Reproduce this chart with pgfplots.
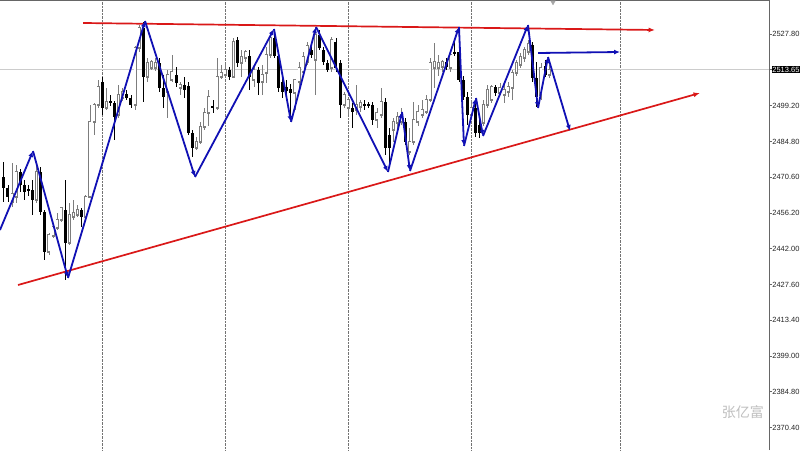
\documentclass[border=0pt]{standalone}
\usepackage{fontspec}
\setmainfont{Liberation Sans}
\newfontfamily\cjk{Noto Sans CJK SC}
\usepackage{pgfplots}
\pgfplotsset{compat=1.18}
\usepackage{pgfplotstable}
\usetikzlibrary{arrows.meta}
\definecolor{mtblue}{RGB}{16,16,180}
\definecolor{mtred}{RGB}{218,24,24}
\definecolor{bullgray}{RGB}{125,125,125}
\pgfplotstableread{
i o h l c
0 2470.7 2476.7 2460.7 2466.3
1 2466.3 2467.5 2460.7 2462.7
2 2460.7 2476.3 2458.7 2463.9
3 2462.7 2475.5 2460.3 2472.7
4 2472.7 2473.9 2464.7 2467.5
5 2467.5 2469.5 2461.5 2464.7
6 2465.9 2467.5 2463.1 2465.1
7 2465.5 2469.5 2455.5 2461.5
8 2461.5 2476.3 2460.3 2472.7
9 2472.7 2474.7 2455.5 2456.7
10 2456.7 2457.5 2437.5 2440.7
11 2440.7 2448.3 2439.5 2447.5
12 2447.1 2452.3 2446.3 2450.7
13 2450.3 2456.3 2449.5 2453.5
14 2453.5 2458.7 2452.7 2458.3
15 2457.5 2469.5 2429.5 2444.3
16 2444.3 2460.3 2443.5 2455.5
17 2454.7 2461.5 2453.5 2456.3
18 2455.5 2459.5 2454.7 2457.5
19 2457.5 2458.3 2450.7 2454.7
20 2454.7 2463.5 2453.9 2462.7
21 2462.7 2499.5 2462.3 2492.7
22 2492.7 2500.3 2487.5 2499.5
23 2499.5 2509.5 2498.3 2506.7
24 2508.7 2510.7 2495.5 2498.3
25 2498.3 2506.3 2497.5 2500.7
26 2501.1 2503.5 2499.1 2500.3
27 2500.3 2501.1 2485.5 2494.7
28 2495.5 2507.5 2494.3 2503.5
29 2502.3 2506.3 2501.1 2504.7
30 2503.9 2505.5 2501.5 2502.3
31 2502.3 2503.5 2498.3 2499.5
32 2499.5 2523.1 2497.5 2522.3
33 2522.3 2531.5 2520.7 2530.3
34 2530.3 2532.7 2500.7 2510.7
35 2510.7 2518.3 2508.7 2516.3
36 2514.3 2517.5 2513.5 2516.7
37 2514.3 2518.3 2513.1 2516.3
38 2516.3 2518.3 2504.7 2506.3
39 2506.3 2511.5 2498.3 2502.7
40 2504.7 2513.5 2494.3 2511.5
41 2509.5 2519.5 2508.7 2512.7
42 2511.5 2514.7 2506.7 2508.3
43 2506.3 2508.7 2503.5 2507.5
44 2507.5 2510.7 2502.3 2505.5
45 2507.1 2508.7 2487.5 2488.3
46 2488.3 2489.5 2478.7 2482.3
47 2482.3 2486.7 2481.5 2484.7
48 2484.7 2492.7 2483.9 2490.7
49 2490.7 2498.3 2489.5 2496.3
50 2496.3 2505.5 2491.1 2502.7
51 2499.1 2501.5 2496.3 2498.3
52 2498.3 2518.3 2497.5 2510.7
53 2510.7 2515.5 2509.9 2512.3
54 2511.5 2516.3 2510.7 2513.5
55 2513.5 2514.7 2509.5 2510.7
56 2510.7 2526.3 2510.3 2524.7
57 2525.5 2526.7 2514.7 2516.3
58 2516.3 2521.5 2510.7 2518.7
59 2518.3 2521.5 2516.7 2520.7
60 2519.1 2521.5 2505.5 2510.7
61 2509.5 2514.7 2506.7 2513.5
62 2513.5 2514.7 2503.5 2508.3
63 2508.7 2515.5 2503.5 2511.5
64 2512.3 2522.7 2508.3 2519.5
65 2519.5 2528.3 2518.3 2526.3
66 2526.3 2529.5 2518.3 2519.1
67 2519.1 2521.5 2504.7 2506.3
68 2508.7 2511.1 2502.3 2504.7
69 2506.7 2509.5 2503.1 2505.1
70 2505.9 2507.9 2493.5 2504.3
71 2504.3 2508.7 2497.5 2509.5
72 2508.7 2516.7 2506.3 2514.3
73 2512.7 2520.7 2511.1 2518.7
74 2516.7 2524.7 2515.5 2523.1
75 2521.5 2523.9 2518.3 2519.5
76 2517.5 2530.7 2503.5 2527.5
77 2527.5 2529.5 2521.5 2522.3
78 2521.5 2522.7 2515.5 2516.7
79 2516.3 2517.5 2512.7 2513.5
80 2514.3 2526.7 2512.7 2525.5
81 2524.7 2526.3 2512.7 2514.3
82 2516.3 2517.5 2494.3 2499.5
83 2499.5 2504.7 2498.3 2503.5
84 2498.3 2502.3 2495.5 2501.5
85 2498.3 2500.3 2490.3 2496.7
86 2497.5 2507.5 2495.5 2499.5
87 2498.7 2501.5 2496.7 2500.3
88 2499.9 2501.5 2497.5 2499.1
89 2499.9 2500.7 2498.3 2499.1
90 2499.5 2500.7 2491.5 2493.5
91 2493.5 2498.3 2490.3 2496.3
92 2495.5 2506.3 2494.3 2500.7
93 2500.7 2502.3 2479.5 2482.3
94 2487.5 2490.3 2474.7 2482.3
95 2489.5 2494.3 2484.7 2492.7
96 2492.3 2496.7 2489.5 2494.7
97 2492.7 2498.3 2491.5 2495.5
98 2492.7 2494.3 2483.5 2484.7
99 2480.7 2490.3 2479.5 2484.7
100 2484.7 2500.7 2483.5 2493.5
101 2492.7 2499.5 2491.1 2496.7
102 2495.5 2501.5 2494.3 2497.5
103 2496.7 2503.5 2495.9 2501.5
104 2501.5 2518.3 2500.7 2516.3
105 2514.3 2524.3 2506.3 2516.7
106 2514.3 2519.5 2511.1 2516.3
107 2514.7 2517.5 2512.7 2516.7
108 2516.7 2518.3 2513.5 2514.7
109 2514.3 2521.5 2512.7 2519.5
110 2520.7 2525.5 2519.1 2519.9
111 2520.7 2525.5 2508.7 2509.5
112 2509.5 2511.1 2501.5 2502.7
113 2502.7 2504.7 2491.5 2495.5
114 2495.5 2501.5 2493.5 2498.3
115 2498.3 2501.5 2486.7 2488.3
116 2491.5 2494.3 2486.3 2488.3
117 2492.3 2501.5 2491.1 2499.5
118 2499.5 2507.5 2498.3 2505.5
119 2501.5 2507.5 2500.3 2506.7
120 2506.7 2507.5 2503.1 2504.3
121 2504.3 2508.3 2503.5 2506.3
122 2503.5 2507.5 2500.3 2505.5
123 2504.7 2508.7 2502.7 2506.7
124 2506.3 2513.5 2501.5 2512.3
125 2512.3 2517.5 2511.1 2516.3
126 2515.5 2520.3 2514.3 2518.7
127 2518.3 2522.7 2516.7 2521.5
128 2520.7 2525.5 2519.5 2523.9
129 2523.5 2524.7 2508.7 2510.3
130 2510.3 2516.7 2498.7 2502.7
131 2503.5 2516.3 2501.5 2514.3
132 2515.1 2517.5 2510.7 2511.5
133 2511.5 2515.5 2510.3 2513.65
}\candles

\begin{document}
\begin{tikzpicture}
\fill[white] (0,0) rectangle (800pt,450pt);
\begin{axis}[
  at={(0pt,0pt)}, anchor=south west,
  width=769pt, height=450pt, scale only axis,
  xmin=-0.927, xmax=186.63, ymin=2361.5, ymax=2541.5,
  clip=false,
  axis x line*=top, axis y line*=right,
  axis line style={draw=black!60, line width=0.8pt},
  xtick={23.95,53.95,83.95,113.95,150.3}, xticklabels={},
  x tick style={draw=none},
  xmajorgrids,
  grid style={densely dotted, black!55, line width=0.6pt},
  ytick={2370.4,2384.8,2399.0,2413.4,2427.6,2442.0,2456.2,2470.6,2484.8,2499.2,2527.8},
  yticklabels={2370.40,2384.80,2399.00,2413.40,2427.60,2442.00,2456.20,2470.60,2484.80,2499.20,2527.80},
  extra y ticks={2513.65}, extra y tick labels={2513.65},
  extra y tick style={yticklabel style={fill=black, text=white}},
  tick align=outside, major tick length=2.5pt,
  y tick style={black!60, line width=0.6pt},
  yticklabel style={font=\fontsize{7.5}{9}\selectfont, text=black!85, inner sep=0.7pt, anchor=west},
  candle/.style={forget plot, mark=none, -},
]
% current price line
\addplot[black!20, line width=0.9pt, forget plot] coordinates {(-0.927,2513.65) (186.63,2513.65)};
% chart shift marker
\addplot[only marks, mark=triangle*, mark size=2.6pt, mark options={rotate=180, fill=black!35, draw=black!35}, forget plot] coordinates {(133.95,2540.6)};
% wicks (bullish grey, bearish black)
\addplot[candle, bullgray, line width=0.7pt,
  restrict expr to domain={\thisrow{c}-\thisrow{o}}{0:10000},
  quiver={u=0, v=\thisrow{h}-\thisrow{l}}]
  table[x=i, y=l] {\candles};
\addplot[candle, black, line width=0.7pt,
  restrict expr to domain={\thisrow{o}-\thisrow{c}}{0.001:10000},
  quiver={u=0, v=\thisrow{h}-\thisrow{l}}]
  table[x=i, y=l] {\candles};
% bodies: bearish
\addplot[candle, black, line width=3pt,
  restrict expr to domain={\thisrow{o}-\thisrow{c}}{0.001:10000},
  quiver={u=0, v={max(\thisrow{o}-\thisrow{c},0.5)}}]
  table[x=i, y=c] {\candles};
% bodies: bullish (grey outline, white fill)
\addplot[candle, bullgray, line width=3pt,
  restrict expr to domain={\thisrow{c}-\thisrow{o}}{0:10000},
  quiver={u=0, v={\thisrow{c}-\thisrow{o}+0.5}}]
  table[x=i, y expr=\thisrow{o}-0.25] {\candles};
\addplot[candle, white, line width=1.6pt,
  restrict expr to domain={\thisrow{c}-\thisrow{o}}{0:10000},
  quiver={u=0, v={max(\thisrow{c}-\thisrow{o}-0.4,0.01)}}]
  table[x=i, y expr=\thisrow{o}+0.2] {\candles};
% red trend lines
\addplot[mtred, line width=1.7pt, -{Latex[length=6.5pt,width=5pt]}] coordinates {(19.32,2532.3) (158.83,2529.5)};
\addplot[mtred, line width=1.7pt, -{Latex[length=6.5pt,width=5pt]}] coordinates {(3.46,2427.5) (169.8,2504.3)};
% blue zigzag
\pgfplotsset{zz/.style={mtblue, line width=1.8pt, -{Latex[length=6pt,width=5pt]}}}
\addplot[zz] coordinates {(-0.93,2449.5) (7.12,2481.1)};
\addplot[zz] coordinates {(7.12,2481.1) (15.66,2430.3)};
\addplot[zz] coordinates {(15.66,2430.3) (34.44,2533.1)};
\addplot[zz] coordinates {(34.44,2533.1) (46.63,2470.7)};
\addplot[zz] coordinates {(46.63,2470.7) (65.9,2529.9)};
\addplot[zz] coordinates {(65.9,2529.9) (70.05,2492.7)};
\addplot[zz] coordinates {(70.05,2492.7) (76.15,2530.7)};
\addplot[zz] coordinates {(76.15,2530.7) (93.7,2472.7)};
\addplot[zz] coordinates {(93.7,2472.7) (97.12,2496.7)};
\addplot[zz] coordinates {(97.12,2496.7) (99.07,2473.1)};
\addplot[zz] coordinates {(99.07,2473.1) (111.02,2530.7)};
\addplot[zz] coordinates {(111.02,2530.7) (112.24,2483.1)};
\addplot[zz] coordinates {(112.24,2483.1) (115.17,2502.3)};
\addplot[zz] coordinates {(115.17,2502.3) (116.88,2487.1)};
\addplot[zz] coordinates {(116.88,2487.1) (127.85,2531.5)};
\addplot[zz] coordinates {(127.85,2531.5) (130.3,2498.3)};
\addplot[zz] coordinates {(130.3,2498.3) (132.73,2518.7)};
\addplot[zz] coordinates {(132.73,2518.7) (138.1,2489.1)};
\addplot[zz] coordinates {(130.3,2520.3) (150.3,2520.7)};
% watermark
\node[text=black!25, font=\cjk\fontsize{14}{14}\selectfont] at (rel axis cs:0.966,0.085) {张亿富};
\end{axis}
\pgfresetboundingbox
\path (0,0) rectangle (800pt,450pt);
\end{tikzpicture}
\end{document}
